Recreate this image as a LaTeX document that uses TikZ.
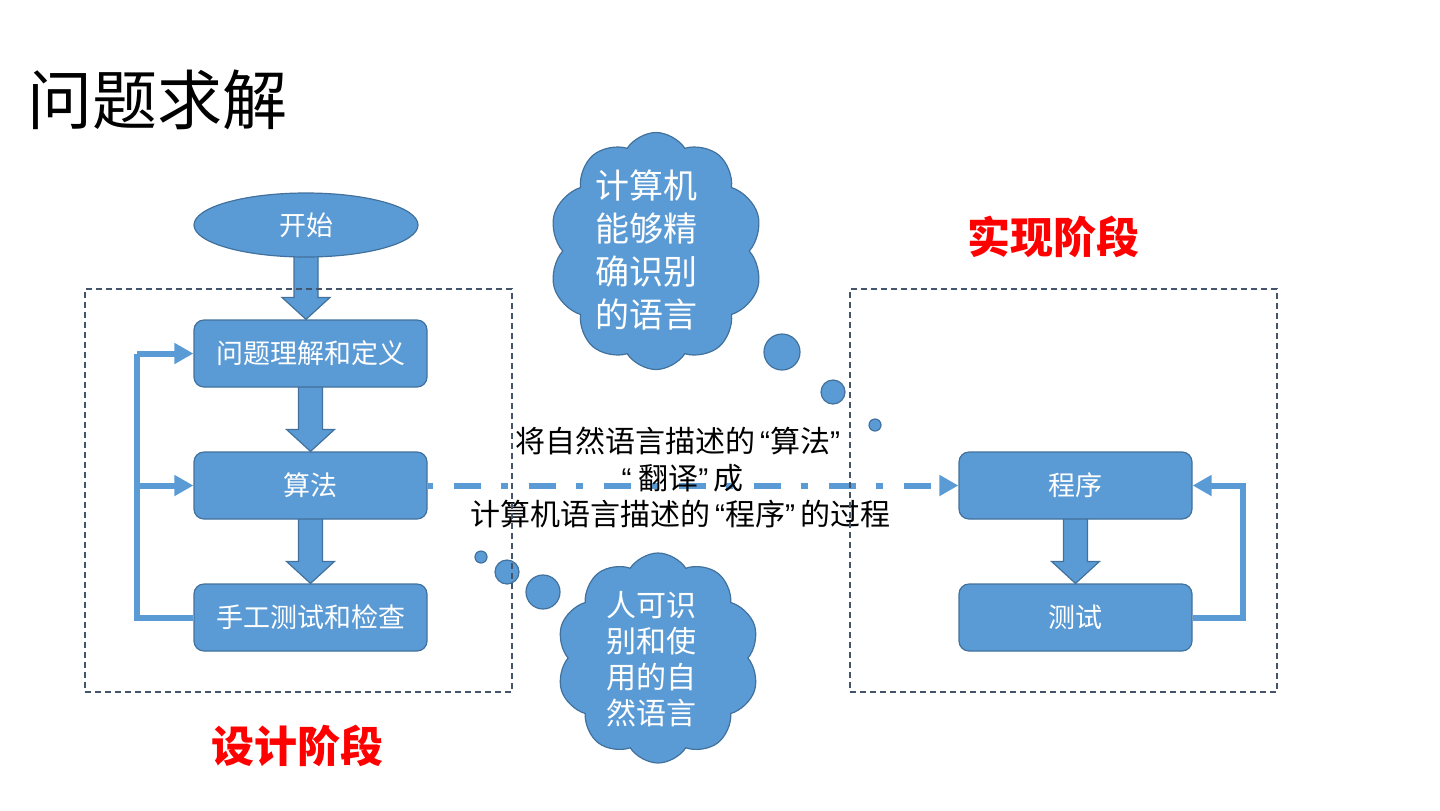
\documentclass[tikz,border=0pt]{standalone}
\usepackage{fontspec}
\setmainfont{Noto Sans CJK SC}
\newfontfamily\quotefont{Liberation Sans}
\newcommand{\oq}{\makebox[0.5em][r]{\quotefont “}}
\newcommand{\cq}{\makebox[0.5em][l]{\quotefont ”}}
\usetikzlibrary{shapes.geometric,shapes.symbols,arrows.meta,calc,backgrounds}
\definecolor{fillb}{HTML}{5B9BD5}
\definecolor{lineb}{HTML}{41719C}
\definecolor{dashc}{HTML}{44546A}
\definecolor{redc}{HTML}{FF0000}
\tikzset{
  box/.style={draw=lineb, line width=0.6pt, fill=fillb, rounded corners=5pt,
    minimum width=116.5pt, minimum height=33.5pt, text=white,
    font=\fontsize{13.5}{16}\selectfont, inner sep=0pt},
  startnode/.style={ellipse, draw=lineb, line width=0.6pt, fill=fillb,
    minimum width=112pt, minimum height=32pt, text=white,
    font=\fontsize{13.5}{16}\selectfont, inner sep=0pt},
  barrow/.style={draw=lineb, line width=0.6pt, fill=fillb},
  fb/.style={draw=fillb, line width=3pt, -{Triangle[length=9.5pt,width=10pt]}},
  fbline/.style={draw=fillb, line width=3pt},
  dd/.style={draw=fillb, line width=3pt,
    dash pattern=on 13.5pt off 10pt on 3.5pt off 10.5pt, dash phase=24.5pt,
    -{Triangle[length=9.5pt,width=10pt]}},
  dbox/.style={draw=dashc, line width=0.7pt, dash pattern=on 3pt off 2pt,
    minimum width=213.5pt, minimum height=201.5pt, inner sep=0pt},
  cloudst/.style={cloud, cloud puffs=10, cloud puff arc=115, aspect=0.9,
    draw=lineb, line width=0.6pt, fill=fillb, inner sep=0pt},
  bubble/.style={circle, draw=lineb, line width=0.6pt, fill=fillb, inner sep=0pt},
  redlabel/.style={text=redc, font=\fontsize{21.5}{24}\selectfont\bfseries},
  cloudtext/.style={text=white, align=center},
}
\newcommand{\blockarrow}[2]{%
  \draw[barrow] ($(#1.south)+(-12,-3)$) -- ($(#1.south |- #2.north)+(-12,-22)$)
    -- ($(#1.south |- #2.north)+(-24,-22)$) -- (#1.south |- #2.north)
    -- ($(#1.south |- #2.north)+(24,-22)$) -- ($(#1.south |- #2.north)+(12,-22)$)
    -- ($(#1.south)+(12,-3)$) -- cycle;}
\begin{document}
\begin{tikzpicture}[x=0.5pt,y=-0.5pt]
\useasboundingbox (0,0) rectangle (1440,810);
% title
\node[anchor=west, font=\fontsize{32.5}{36}\selectfont, inner sep=0pt] (title) at (27,100) {问题求解};
% left flow
\node[startnode] (start) at (306,225) {开始};
\node[box] (p1) at (310.5,353.5) {问题理解和定义};
\node[box] (p2) at (310.5,485.5) {算法};
\node[box] (p3) at (310.5,617.5) {手工测试和检查};
\begin{scope}[on background layer]
  \blockarrow{start}{p1}
  \blockarrow{p1}{p2}
  \blockarrow{p2}{p3}
\end{scope}
\coordinate (lx) at (137,618);
\draw[fbline] (p3.west) -- (lx |- p3.west) -- (lx |- p1.west);
\draw[fb] (lx |- p1.west) -- (p1.west);
\draw[fb] (lx |- p2.west) -- (p2.west);
% right flow
\node[box] (prog) at (1075.5,485.5) {程序};
\node[box] (test) at (1075.5,617.5) {测试};
\begin{scope}[on background layer]
  \blockarrow{prog}{test}
\end{scope}
\coordinate (rx) at (1243,618);
\draw[fb] (test.east) -- (rx |- test.east) -- (rx |- prog.east) -- (prog.east);
% dash-dot connector
\draw[dd] (p2.east) -- (prog.west);
\node[font=\fontsize{15}{18.25}\selectfont, align=center, inner sep=0pt] (mid) at (680,478)
  {将自然语言描述的\oq 算法\cq\\\oq\ 翻译\cq 成\hspace*{19pt}\\计算机语言描述的\oq 程序\cq 的过程};
% clouds
\node[cloudst, minimum width=107pt, minimum height=118.5pt] (c1) at (656,251) {};
\node[cloudtext, font=\fontsize{17}{21.5}\selectfont] (c1t) at (646,250) {计算机\\能够精\\确识别\\的语言};
\node[bubble, minimum size=18pt] (b11) at (782,352) {};
\node[bubble, minimum size=12pt] (b12) at (833,392) {};
\node[bubble, minimum size=6pt] (b13) at (875,425) {};
\node[cloudst, minimum width=101.5pt, minimum height=105pt] (c2) at (658,658) {};
\node[cloudtext, font=\fontsize{15}{18}\selectfont] (c2t) at (651,659) {人可识\\别和使\\用的自\\然语言};
\node[bubble, minimum size=17pt] (b21) at (543,592) {};
\node[bubble, minimum size=12pt] (b22) at (507,572) {};
\node[bubble, minimum size=6pt] (b23) at (481,557) {};
% dashed stage boxes
\node[dbox] (design) at (298.5,490.5) {};
\node[dbox] (impl) at (1063.5,490.5) {};
\node[redlabel] (designlbl) at (297,746) {设计阶段};
\node[redlabel] (impllbl) at (1053,237) {实现阶段};
\end{tikzpicture}
\end{document}
